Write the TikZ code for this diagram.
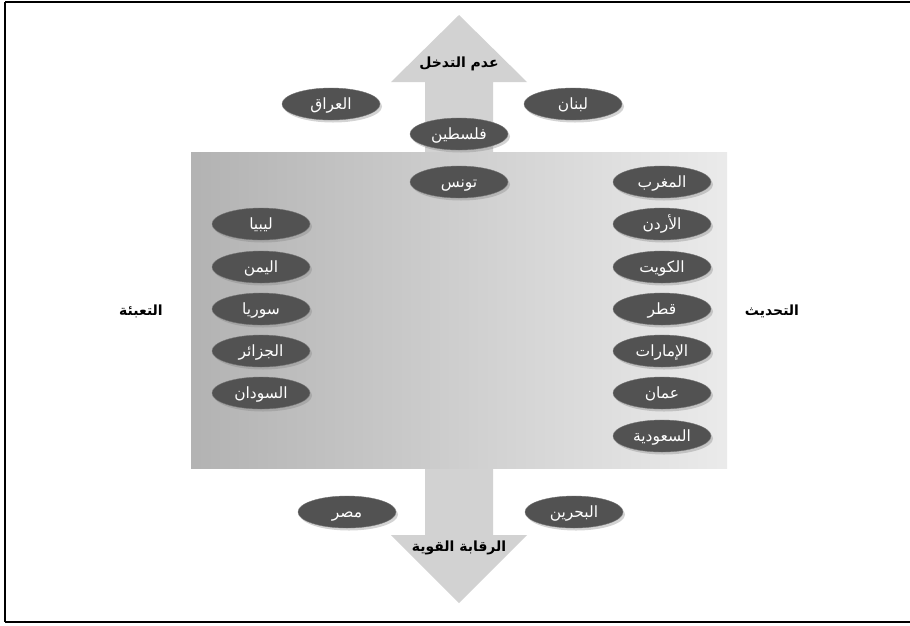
\documentclass[tikz,border=0pt]{standalone}
\usepackage{fontspec}
\newfontfamily\arabicfont[Script=Arabic]{DejaVu Sans}
\TeXXeTstate=1
\usetikzlibrary{shapes.geometric,shadows}

\begin{document}
\begin{tikzpicture}[x=1pt, y=-1pt,
        country/.style={ellipse, draw=black!55, fill=black!68, text=white,
            minimum width=98pt, minimum height=32pt, inner sep=0pt,
            text height=12pt, text depth=1pt,
            drop shadow={opacity=0.35, shadow xshift=2pt, shadow yshift=-2.5pt},
            font=\arabicfont\fontsize{15.5}{17}\selectfont},
        axislabel/.style={font=\arabicfont\bfseries\fontsize{14}{16}\selectfont}]
            \useasboundingbox (0, 0) rectangle (910, 625);
            \draw[line width=1.2pt] (5, 2) -- (5, 622);
            \draw[line width=1.2pt] (5, 2) -- (910, 2);
            \draw[line width=1.2pt] (5, 622) -- (910, 622);

            % arrows
            \fill[gray!35] (425, 152) -- (425, 82) -- (391, 82) -- (459, 15)
                -- (527, 82) -- (493, 82) -- (493, 152) -- cycle;
            \fill[gray!35] (425, 468) -- (425, 535) -- (391, 535) -- (459, 603)
                -- (527, 535) -- (493, 535) -- (493, 468) -- cycle;

            % field
            \shade[left color=black!30, right color=black!8] (191, 152) rectangle (727, 468);

            \node[axislabel] (adam) at (459, 64) {\beginR عدم التدخل\endR};
            \node[axislabel] (raqaba) at (459, 548) {\beginR الرقابة القوية\endR};
            \node[axislabel] (tabia) at (141, 311) {\beginR التعبئة\endR};
            \node[axislabel] (tahdith) at (772, 311) {\beginR التحديث\endR};

            \node[country] (iraq) at (331, 104) {\beginR العراق\endR};
            \node[country] (lebanon) at (573, 104) {\beginR لبنان\endR};
            \node[country] (palestine) at (459, 134) {\beginR فلسطين\endR};
            \node[country] (tunis) at (459, 182) {\beginR تونس\endR};

            \node[country] (libya) at (261, 224) {\beginR ليبيا\endR};
            \node[country] (yemen) at (261, 267) {\beginR اليمن\endR};
            \node[country] (syria) at (261, 309) {\beginR سوريا\endR};
            \node[country] (algeria) at (261, 351) {\beginR الجزائر\endR};
            \node[country] (sudan) at (261, 393) {\beginR السودان\endR};

            \node[country] (morocco) at (662, 182) {\beginR المغرب\endR};
            \node[country] (jordan) at (662, 224) {\beginR الأردن\endR};
            \node[country] (kuwait) at (662, 267) {\beginR الكويت\endR};
            \node[country] (qatar) at (662, 309) {\beginR قطر\endR};
            \node[country] (emirates) at (662, 351) {\beginR الإمارات\endR};
            \node[country] (oman) at (662, 393) {\beginR عمان\endR};
            \node[country] (saudi) at (662, 436) {\beginR السعودية\endR};

            \node[country] (egypt) at (347, 512) {\beginR مصر\endR};
            \node[country] (bahrain) at (574, 512) {\beginR البحرين\endR};
        \end{tikzpicture}
\end{document}
